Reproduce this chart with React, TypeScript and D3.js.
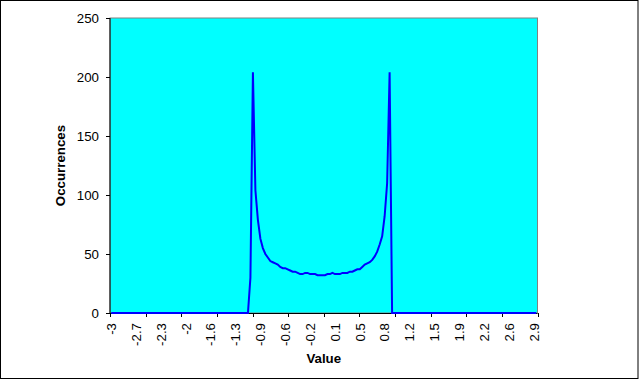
import React, { useEffect, useRef } from "react";
import * as d3 from "d3";

// Histogram bins: start at -3, width 0.035, 172 categories
const binStart = -3;
const binWidth = 0.035;

// Occurrence counts per bin
const counts: number[] = [
  // 0..55 : zero
  0, 0, 0, 0, 0, 0, 0, 0, 0, 0,
  0, 0, 0, 0, 0, 0, 0, 0, 0, 0,
  0, 0, 0, 0, 0, 0, 0, 0, 0, 0,
  0, 0, 0, 0, 0, 0, 0, 0, 0, 0,
  0, 0, 0, 0, 0, 0, 0, 0, 0, 0,
  0, 0, 0, 0, 0, 0,
  // 56..112
  30, 204, 104, 79, 63, 55, 50, 47, 44, 43,
  42, 41, 39, 38, 38, 37, 36, 35, 35, 34,
  33, 33, 34, 34, 33, 33, 33, 32, 32, 32,
  32, 33, 33, 34, 33, 33, 33, 34, 34, 34,
  35, 35, 36, 37, 37, 39, 41, 42, 43, 45,
  48, 52, 58, 65, 82, 110, 204,
  // 113..171 : zero
  0, 0, 0, 0, 0, 0, 0, 0, 0, 0,
  0, 0, 0, 0, 0, 0, 0, 0, 0, 0,
  0, 0, 0, 0, 0, 0, 0, 0, 0, 0,
  0, 0, 0, 0, 0, 0, 0, 0, 0, 0,
  0, 0, 0, 0, 0, 0, 0, 0, 0, 0,
  0, 0, 0, 0, 0, 0, 0, 0, 0,
];

// Category label every 10 bins
const xTickLabels = [
  "-3", "-2.7", "-2.3", "-2", "-1.6", "-1.3", "-0.9", "-0.6", "-0.2",
  "0.1", "0.5", "0.8", "1.2", "1.5", "1.9", "2.2", "2.6", "2.9",
];
const labelEvery = 10;
const tickIntervals = 12;
const yTicks = [0, 50, 100, 150, 200, 250];
const yMax = 250;

const W = 639;
const H = 380;
const plot = { left: 110, right: 537.5, top: 18, bottom: 313 };
const FONT = "'Liberation Sans', Arial, sans-serif";

export default function App() {
  const ref = useRef<SVGSVGElement>(null);

  useEffect(() => {
    const svg = d3.select(ref.current);
    svg.selectAll("*").remove();

    const x = d3
      .scaleBand<number>()
      .domain(d3.range(counts.length))
      .range([plot.left, plot.right])
      .paddingInner(0)
      .paddingOuter(0);
    const bw = x.bandwidth();
    const y = d3.scaleLinear().domain([0, yMax]).range([plot.bottom, plot.top]);
    const tickX = d3.scaleLinear().domain([0, tickIntervals]).range([plot.left, plot.right]);

    // outer frame
    svg
      .append("rect")
      .attr("x", 0.5)
      .attr("y", 0.5)
      .attr("width", 637.5)
      .attr("height", 378)
      .attr("fill", "#ffffff")
      .attr("stroke", "#000000")
      .attr("stroke-width", 1);

    // plot area
    svg
      .append("rect")
      .attr("x", plot.left)
      .attr("y", plot.top)
      .attr("width", plot.right - plot.left)
      .attr("height", plot.bottom - plot.top)
      .attr("fill", "#00ffff")
      .attr("stroke", "#808080")
      .attr("stroke-width", 1);

    // y axis
    const g = svg.append("g");
    g.append("line")
      .attr("x1", plot.left)
      .attr("x2", plot.left)
      .attr("y1", plot.top)
      .attr("y2", plot.bottom)
      .attr("stroke", "#000")
      .attr("stroke-width", 1);
    yTicks.forEach((t) => {
      g.append("line")
        .attr("x1", plot.left - 4)
        .attr("x2", plot.left)
        .attr("y1", Math.round(y(t)) + 0.5)
        .attr("y2", Math.round(y(t)) + 0.5)
        .attr("stroke", "#000");
      g.append("text")
        .attr("x", plot.left - 11)
        .attr("y", y(t))
        .attr("dy", "0.36em")
        .attr("text-anchor", "end")
        .attr("font-family", FONT)
        .attr("font-size", 13.3)
        .attr("fill", "#000")
        .text(String(t));
    });

    // x axis
    g.append("line")
      .attr("x1", plot.left)
      .attr("x2", plot.right)
      .attr("y1", plot.bottom + 0.5)
      .attr("y2", plot.bottom + 0.5)
      .attr("stroke", "#000");
    d3.range(tickIntervals + 1).forEach((k) => {
      const tx = Math.round(tickX(k)) + 0.5;
      g.append("line")
        .attr("x1", tx)
        .attr("x2", tx)
        .attr("y1", plot.bottom)
        .attr("y2", plot.bottom + 4)
        .attr("stroke", "#000");
    });
    xTickLabels.forEach((lab, k) => {
      const idx = k * labelEvery;
      const cx = (x(idx) as number) + bw / 2;
      g.append("text")
        .attr("transform", `translate(${cx},${plot.bottom + 10}) rotate(-90)`)
        .attr("dy", "0.36em")
        .attr("text-anchor", "end")
        .attr("font-family", FONT)
        .attr("font-size", 13.3)
        .attr("fill", "#000")
        .text(lab);
    });

    // axis titles
    svg
      .append("text")
      .attr("x", (plot.left + plot.right) / 2)
      .attr("y", 363)
      .attr("text-anchor", "middle")
      .attr("font-family", FONT)
      .attr("font-weight", "bold")
      .attr("font-size", 13.3)
      .text("Value");
    svg
      .append("text")
      .attr("transform", `translate(65,${(plot.top + plot.bottom) / 2}) rotate(-90)`)
      .attr("text-anchor", "middle")
      .attr("font-family", FONT)
      .attr("font-weight", "bold")
      .attr("font-size", 13.3)
      .text("Occurrences");

    // data line
    const line = d3
      .line<number>()
      .x((_, i) => (x(i) as number) + bw / 2)
      .y((d) => y(d));
    svg
      .append("path")
      .datum(counts)
      .attr("d", line)
      .attr("fill", "none")
      .attr("stroke", "#0000ff")
      .attr("stroke-width", 2)
      .attr("stroke-linejoin", "miter");

    void binStart;
    void binWidth;
  }, []);

  return (
    <svg
      ref={ref}
      width={W}
      height={H}
      style={{ position: "absolute", left: 0, top: 0, display: "block" }}
    />
  );
}
